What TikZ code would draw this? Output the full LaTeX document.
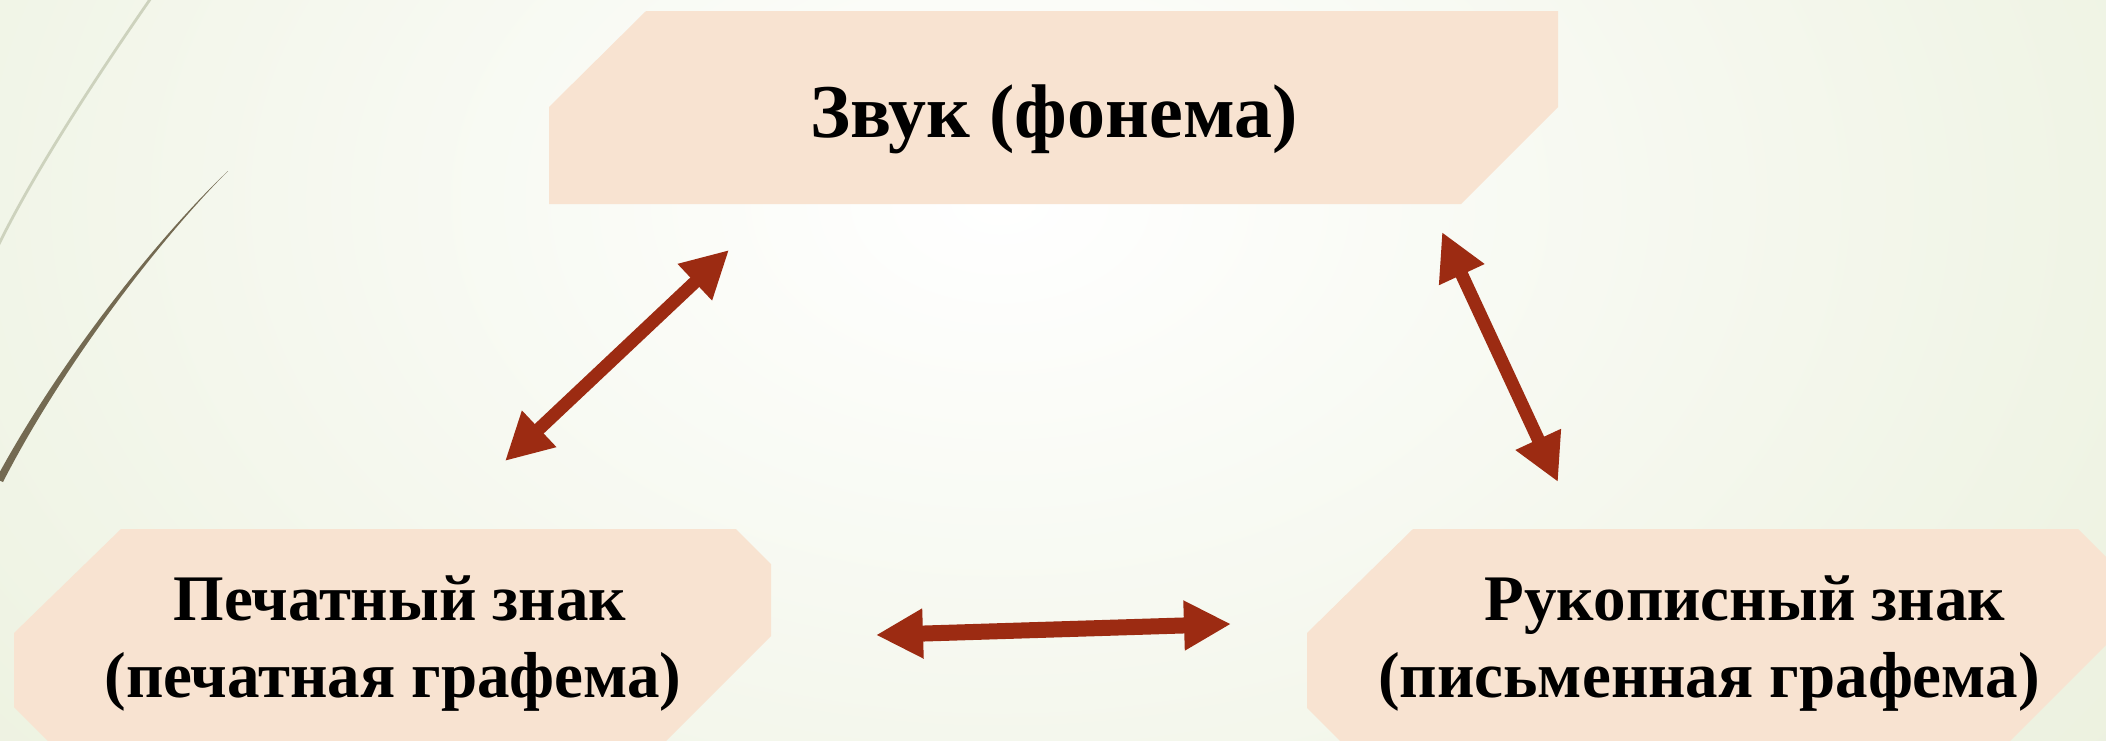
\documentclass[tikz,border=0pt]{standalone}
\usepackage{fontspec}
\setmainfont{Liberation Serif}
\usetikzlibrary{arrows.meta}
\definecolor{bgouter}{HTML}{E5ECD3}
\definecolor{boxfill}{HTML}{F8E3D1}
\definecolor{arrowred}{HTML}{9C2B12}
\definecolor{lightcurve}{HTML}{CDD2BD}
\definecolor{darkcurve}{HTML}{746A52}
\begin{document}
\begin{tikzpicture}[x=0.5pt,y=-0.5pt,
  boxshape/.style={fill=boxfill,draw=none},
  biglbl/.style={font=\bfseries\fontsize{38pt}{45pt}\selectfont, inner sep=0pt, anchor=base},
  lbl/.style={font=\bfseries\fontsize{32.5pt}{38.5pt}\selectfont, inner sep=0pt, anchor=base},
  biarrow/.style={draw=arrowred, line width=#1, {Triangle[length=23.5pt,width=23.5pt]}-{Triangle[length=23.5pt,width=23.5pt]}},
  biarrow/.default=6.5pt
]
\useasboundingbox (0,0) rectangle (2106,740);
% background
\begin{scope}
\clip (0,0) rectangle (2106,740);
\shade[inner color=white, outer color=bgouter] (-900,-1100) rectangle (2900,1500);
% decorative curves
\draw[lightcurve, line width=1.4pt] (151,-2) .. controls (115,50) and (40,160) .. (-2,246);
\fill[darkcurve] (228,171) .. controls (160,235) and (60,360) .. (-4,479) -- (3,482) .. controls (64,363) and (162,237) .. (228,171) -- cycle;
\end{scope}
% boxes
\fill[boxshape] (549,107) -- (646,11) -- (1558,11) -- (1558,107) -- (1461,204) -- (549,204) -- cycle;
\fill[boxshape] (14,633) -- (121,529) -- (736,529) -- (771,564) -- (771,636) -- (665,742) -- (49,742) -- (14,707) -- cycle;
\fill[boxshape] (1307,633) -- (1413,529) -- (2078,529) -- (2114,565) -- (2114,637) -- (2008,743) -- (1342,743) -- (1307,708) -- cycle;
% labels
\node[biglbl] (zvuk) at (1054,137) {Звук (фонема)};
\node[lbl] (pech1) at (400,620) {Печатный знак};
\node[lbl] (pech2) at (393,697) {(печатная графема)};
\node[lbl] (ruk1) at (1745,620) {Рукописный знак};
\node[lbl] (ruk2) at (1709,697) {(письменная графема)};
% arrows
\coordinate (a1s) at (505,461);
\coordinate (a1e) at (729,250);
\coordinate (a2s) at (1442,232);
\coordinate (a2e) at (1558,482);
\coordinate (a3s) at (876,635);
\coordinate (a3e) at (1231,624);
\draw[biarrow] (a1s) -- (a1e);
\draw[biarrow] (a2s) -- (a2e);
\draw[biarrow=8pt] (a3s) -- (a3e);
\end{tikzpicture}
\end{document}
